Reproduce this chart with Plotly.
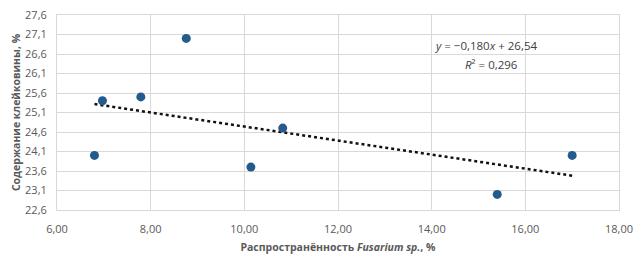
import plotly.graph_objects as go
import numpy as np

# Data
prevalence = [6.80, 6.97, 7.79, 8.76, 10.14, 10.82, 15.40, 17.00]
gluten = [24.0, 25.4, 25.5, 27.0, 23.7, 24.7, 23.0, 24.0]
trend_slope = -0.180
trend_intercept = 26.54
r_squared = 0.296

x_ticks = [6, 8, 10, 12, 14, 16, 18]
y_ticks = [22.6, 23.1, 23.6, 24.1, 24.6, 25.1, 25.6, 26.1, 26.6, 27.1, 27.6]

font_family = "Open Sans, Noto Sans, Liberation Sans, sans-serif"

tx = np.array([min(prevalence), max(prevalence)])
ty = trend_slope * tx + trend_intercept

fig = go.Figure()
fig.add_trace(go.Scatter(
    x=tx, y=ty, mode="lines",
    line=dict(color="#111111", width=2.5, dash="dot"),
    hoverinfo="skip", showlegend=False,
))
fig.add_trace(go.Scatter(
    x=prevalence, y=gluten, mode="markers",
    marker=dict(color="#245A8C", size=9),
    showlegend=False,
))

def fmt(v, d):
    return f"{v:.{d}f}".replace(".", ",").replace("-", "\u2212")

fig.add_annotation(
    x=15.14, y=26.81, xref="x", yref="y", showarrow=False, xanchor="center",
    text=f"<i>y</i> = {fmt(trend_slope, 3)}<i>x</i> + {fmt(trend_intercept, 2)}",
    font=dict(family=font_family, size=11.5, color="#404040"),
)
fig.add_annotation(
    x=15.27, y=26.32, xref="x", yref="y", showarrow=False, xanchor="center",
    text=f"<i>R</i>² = {fmt(r_squared, 3)}",
    font=dict(family=font_family, size=11.5, color="#404040"),
)

fig.update_layout(
    width=640, height=254,
    margin=dict(l=57, r=21, t=15, b=44),
    paper_bgcolor="white", plot_bgcolor="white",
    separators=", ",
    font=dict(family=font_family, size=11, color="#595959"),
    xaxis=dict(
        range=[6, 18], tickvals=x_ticks, tickformat=".2f",
        showgrid=True, gridcolor="#D9D9D9", gridwidth=1,
        showline=True, linecolor="#D9D9D9", linewidth=1, mirror=True,
        zeroline=False, ticks="outside", ticklen=9, tickcolor="rgba(0,0,0,0)",
        tickfont=dict(size=11, color="#595959"), automargin=False,
        title=dict(text="<b>Распространённость <i>Fusarium sp.</i>, %</b>",
                   font=dict(size=10.5, color="#595959"), standoff=12),
    ),
    yaxis=dict(
        range=[22.6, 27.6], tickvals=y_ticks, tickformat=".1f",
        showgrid=True, gridcolor="#D9D9D9", gridwidth=1,
        showline=True, linecolor="#D9D9D9", linewidth=1, mirror=True,
        zeroline=False, ticks="outside", ticklen=7, tickcolor="rgba(0,0,0,0)",
        tickfont=dict(size=11, color="#595959"), automargin=False,
        title=dict(text="<b>Содержание клейковины, %</b>",
                   font=dict(size=10.5, color="#595959"), standoff=2),
    ),
)

fig.write_html("out.html")
